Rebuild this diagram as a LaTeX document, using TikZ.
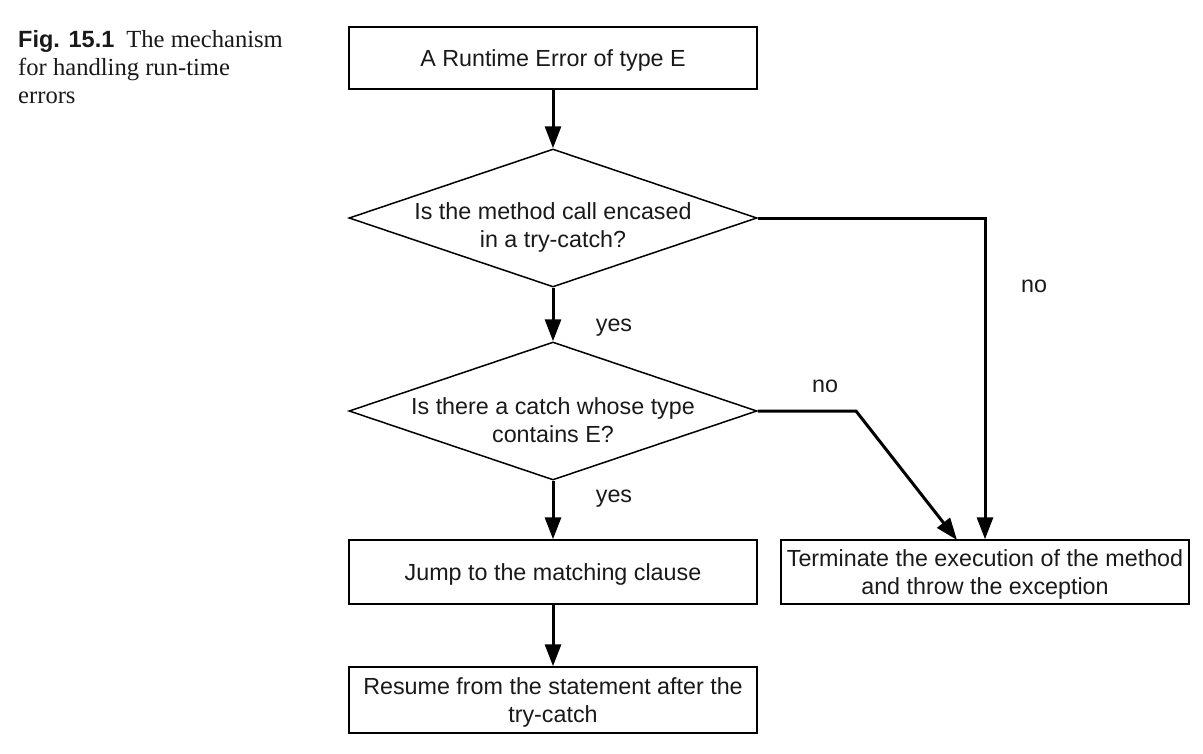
\documentclass[tikz,border=0pt]{standalone}
\usepackage{fontspec}
\setmainfont{Liberation Sans}
\newfontfamily\capserif{Liberation Serif}
\newfontfamily\capsans{Liberation Sans}
\usetikzlibrary{shapes.geometric,arrows.meta}
\begin{document}
\begin{tikzpicture}[x=1pt,y=-1pt,
  every node/.style={font=\fontsize{23.3}{28}\selectfont, text=black!90},
  stepbox/.style={draw, line width=1.5pt, minimum width=408pt, inner sep=0pt, align=center, text depth=0pt},
  decision/.style={draw, diamond, line width=1.5pt, minimum width=408pt, minimum height=138pt, inner sep=0pt},
  dlabel/.style={align=center, inner sep=0pt, yshift=-9pt},
  flow/.style={line width=3pt, -{Triangle[length=22pt,width=16pt]}},
  lbl/.style={inner sep=0pt}
]
\useasboundingbox (0,0) rectangle (1203,753);

\node[anchor=north west, inner sep=0pt, align=left, font=\fontsize{24.6}{28}\selectfont] (cap) at (18,30)
  {{\capsans\bfseries\fontsize{23.5}{28}\selectfont Fig. 15.1}\hspace{12pt}{\capserif The mechanism}\\
   {\capserif for handling run-time}\\
   {\capserif errors}};

\node[stepbox, minimum height=62pt] (b1) at (553,58) {A Runtime Error of type E};
\node[decision, label={[dlabel]center:Is the method call encased\\in a try-catch?}] (d1) at (553,218) {};
\node[decision, label={[dlabel]center:Is there a catch whose type\\contains E?}] (d2) at (553,411) {};
\node[stepbox, minimum height=64pt] (jump) at (553,572) {Jump to the matching clause};
\node[stepbox, minimum height=64pt] (term) at (985,572) {Terminate the execution of the method\\and throw the exception};
\node[stepbox, minimum height=66pt] (res) at (553,700) {Resume from the statement after the\\try-catch};

\coordinate (c1) at (985,218);
\coordinate (c2) at (856,411);
\coordinate (t2) at (957,540);

\draw[flow] (b1.south) -- (d1.north);
\draw[flow] (d1.south) -- (d2.north);
\draw[flow] (d2.south) -- (jump.north);
\draw[flow] (jump.south) -- (res.north);
\draw[flow] (d1.east) -- (c1) -- (term.north);
\draw[flow] (d2.east) -- (c2) -- (t2);

\node[lbl] (no1) at (1034,286) {no};
\node[lbl] (no2) at (825,386) {no};
\node[lbl] (yes1) at (614,328) {yes};
\node[lbl] (yes2) at (614,499) {yes};
\end{tikzpicture}
\end{document}
